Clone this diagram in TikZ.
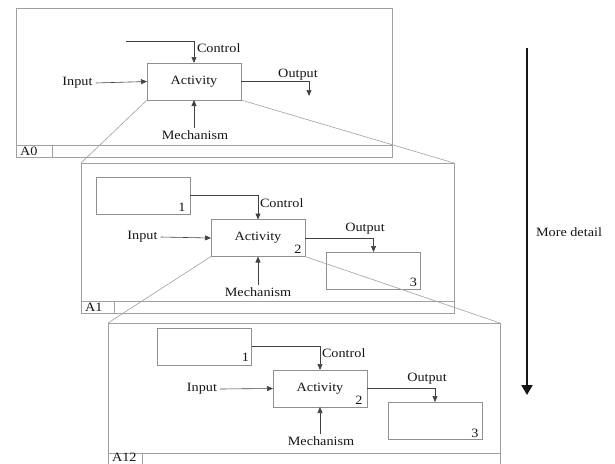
\documentclass[tikz,border=0pt]{standalone}
\usepackage{fontspec}
\setmainfont{Liberation Serif}[FakeStretch=1.12]
\usetikzlibrary{arrows.meta,calc}
\definecolor{framegray}{HTML}{A0A0A0}
\definecolor{boxgray}{HTML}{909090}
\definecolor{flowgray}{HTML}{404040}
\definecolor{txt}{HTML}{151515}
\tikzset{
  frame/.style={draw=framegray, line width=0.8pt, inner sep=0pt, outer sep=0pt, anchor=north west},
  actbox/.style={draw=boxgray, line width=0.8pt, minimum width=94pt, minimum height=37pt, inner sep=0pt, outer sep=0pt, text=txt, font=\fontsize{12.7}{14}\selectfont},
  lbl/.style={inner sep=0pt, outer sep=3pt, text=txt, font=\fontsize{12.7}{14}\selectfont},
  digit/.style={inner sep=0pt, outer sep=0pt, text=txt, font=\fontsize{12.7}{14}\selectfont},
  flow/.style={draw=flowgray, line width=0.6pt, -{Triangle[width=5pt,length=6pt]}},
  zoomline/.style={draw=framegray, line width=0.6pt},
  strip/.style={draw=framegray, line width=0.8pt},
}
\begin{document}
\begin{tikzpicture}[x=1pt,y=-1pt]
\useasboundingbox (0,0) rectangle (615,463);
\clip (0,0) rectangle (615,463);

% ---------- frames ----------
\node[frame, minimum width=376pt, minimum height=149pt] (F0) at (16,8) {};
\node[frame, minimum width=373pt, minimum height=150pt] (F1) at (81,163) {};
\node[frame, minimum width=392pt, minimum height=142pt] (F2) at (108,323) {};

\foreach \f/\d/\t/\dy in {F0/36/A0/6, F1/33/A1/6, F2/34/A12/7.5}{
  \draw[strip] ($(\f.south west)+(0,-12)$) -- ($(\f.south east)+(0,-12)$);
  \draw[strip] ($(\f.south west)+(\d,0)$) -- ($(\f.south west)+(\d,-12)$);
  \node[digit, anchor=west] (L\f) at ($(\f.south west)+(4,-\dy)$) {\t};
}

% ---------- A0 ----------
\node[actbox] (act0) at (194,81.5) {Activity};
\coordinate (c0) at (126,41);
\coordinate (o0) at (309,96);
\node[lbl] (in0) at (77.5,83) {Input};
\node[lbl, anchor=west] (ctl0) at (194,48) {Control};
\node[lbl] (out0) at (298,75) {Output};
\node[lbl] (mech0) at (195,135) {Mechanism};
\draw[flow] (c0) -| (act0.north);
\draw[flow] (in0.east) -- (act0.west);
\draw[flow] (act0.east) -| (o0);
\draw[flow] (act0.south |- mech0.north) -- (act0.south);

% ---------- A1 ----------
\node[actbox] (b11) at (143,195.5) {};
\node[actbox] (act1) at (258,238) {Activity};
\node[actbox] (b13) at (373.5,270.5) {};
\node[digit] (n11) at ($(b11.south east)+(-8,-7)$) {1};
\node[digit] (n12) at ($(act1.south east)+(-7,-7)$) {2};
\node[digit] (n13) at ($(b13.south east)+(-7,-7)$) {3};
\node[lbl] (in1) at (142.5,237) {Input};
\node[lbl, anchor=west] (ctl1) at (257,203) {Control};
\node[lbl] (out1) at (365,229) {Output};
\node[lbl] (mech1) at (258,292) {Mechanism};
\draw[flow] (b11.east) -| (act1.north);
\draw[flow] (in1.east) -- (act1.west);
\draw[flow] (act1.east) -| (b13.north);
\draw[flow] (act1.south |- mech1.north) -- (act1.south);

% ---------- A12 ----------
\node[actbox] (b21) at (204.5,346.5) {};
\node[actbox] (act2) at (320,388.5) {Activity};
\node[actbox] (b23) at (435,420.5) {};
\node[digit] (n21) at ($(b21.south east)+(-6,-8)$) {1};
\node[digit] (n22) at ($(act2.south east)+(-8,-7)$) {2};
\node[digit] (n23) at ($(b23.south east)+(-7,-6)$) {3};
\node[lbl] (in2) at (202,389) {Input};
\node[lbl, anchor=west] (ctl2) at (319,353) {Control};
\node[lbl] (out2) at (427,379) {Output};
\node[lbl] (mech2) at (321,441) {Mechanism};
\draw[flow] (b21.east) -| (act2.north);
\draw[flow] (in2.east) -- (act2.west);
\draw[flow] (act2.east) -| (b23.north);
\draw[flow] (act2.south |- mech2.north) -- (act2.south);

% ---------- zoom lines ----------
\draw[zoomline] (act0.south west) -- (F1.north west);
\draw[zoomline] (act0.south east) -- (F1.north east);
\draw[zoomline] (act1.south west) -- (F2.north west);
\draw[zoomline] (act1.south east) -- (F2.north east);

% ---------- more detail arrow ----------
\coordinate (dtop) at (527,48);
\coordinate (dbot) at (527,395);
\draw[draw=txt, line width=2pt, -{Triangle[width=11pt,length=10pt]}] (dtop) -- (dbot);
\node[lbl, anchor=west] (md) at (533,232) {More detail};
\end{tikzpicture}
\end{document}
